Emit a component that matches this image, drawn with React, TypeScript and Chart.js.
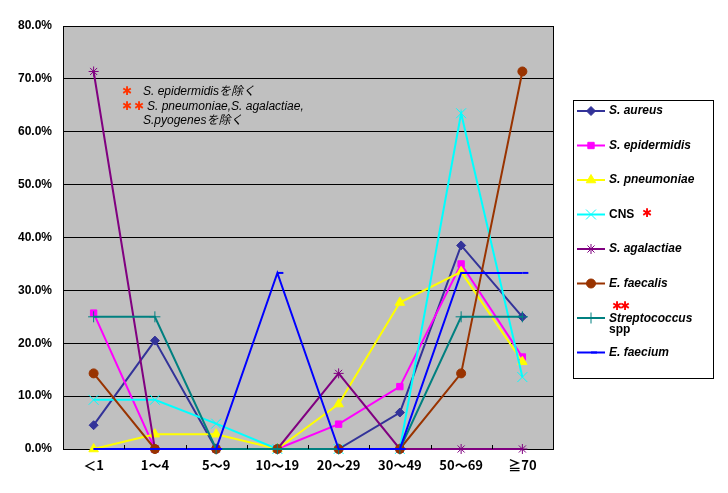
import { useRef, useEffect } from "react";
import { Chart, registerables, type Plugin } from "chart.js";
import { drawPoint } from "chart.js/helpers";

Chart.register(...registerables);

const categories = ["＜1", "1～4", "5～9", "10～19", "20～29", "30～49", "50～69", "≧70"];
const seriesNames = [
  "S. aureus",
  "S. epidermidis",
  "S. pneumoniae",
  "CNS",
  "S. agalactiae",
  "E. faecalis",
  "Streptococcus spp",
  "E. faecium",
];
const sAureus = [4.5, 20.5, 0, 0, 0, 6.9, 38.5, 25.0];
const sEpidermidis = [25.7, 0, 0, 0, 4.7, 11.8, 35.0, 17.4];
const sPneumoniae = [0, 2.8, 2.8, 0, 8.5, 27.7, 33.5, 16.5];
const cns = [9.3, 9.3, 4.8, 0, 0, 0, 63.5, 13.6];
const sAgalactiae = [71.4, 0, 0, 0, 14.3, 0, 0, 0];
const eFaecalis = [14.3, 0, 0, 0, 0, 0, 14.3, 71.4];
const streptococcus = [25, 25, 0, 0, 0, 0, 25, 25];
const eFaecium = [0, 0, 0, 33.3, 0, 0, 33.3, 33.3];
const yMax = 80;
const yStep = 10;
const notes = ["S. epidermidisを除く", "S. pneumoniae,S. agalactiae,", "S.pyogenesを除く"];

const seriesValues = [sAureus, sEpidermidis, sPneumoniae, cns, sAgalactiae, eFaecalis, streptococcus, eFaecium];

const seriesStyles = [
  { color: "#333399", pointStyle: "rectRot", radius: 4.5, pointBorder: 1 },
  { color: "#ff00ff", pointStyle: "rect", radius: 4.5, pointBorder: 1 },
  { color: "#ffff00", pointStyle: "triangle", radius: 5.5, pointBorder: 1 },
  { color: "#00ffff", pointStyle: "crossRot", radius: 7, pointBorder: 1 },
  { color: "#800080", pointStyle: "star", radius: 5, pointBorder: 1 },
  { color: "#993300", pointStyle: "circle", radius: 4.5, pointBorder: 1 },
  { color: "#008080", pointStyle: "cross", radius: 5.5, pointBorder: 1 },
  { color: "#0000ff", pointStyle: "dash", radius: 6, pointBorder: 2 },
];

const redStar = (ctx: CanvasRenderingContext2D, x: number, y: number, color: string) => {
  ctx.save();
  ctx.fillStyle = color;
  ctx.font = 'bold 12px "DejaVu Sans"';
  ctx.textAlign = "center";
  ctx.textBaseline = "middle";
  ctx.fillText("✱", x, y);
  ctx.restore();
};

const decorPlugin: Plugin<"line"> = {
  id: "decor",
  beforeDraw(chart) {
    const { ctx, chartArea: a } = chart;
    ctx.save();
    ctx.fillStyle = "#c0c0c0";
    ctx.fillRect(a.left, a.top, a.right - a.left, a.bottom - a.top);
    ctx.restore();
  },
  afterDraw(chart) {
    const { ctx, chartArea: a } = chart;
    const xs = chart.scales.x;
    ctx.save();
    // plot frame + inside tick marks
    ctx.strokeStyle = "#000";
    ctx.lineWidth = 1;
    ctx.beginPath();
    ctx.moveTo(a.right + 0.5, a.top);
    ctx.lineTo(a.right + 0.5, a.bottom);
    const w = (a.right - a.left) / categories.length;
    for (let i = 1; i < categories.length; i++) {
      const px = Math.round(xs.getPixelForValue(i) - w / 2) + 0.5;
      ctx.moveTo(px, a.bottom);
      ctx.lineTo(px, a.bottom - 4);
    }
    ctx.stroke();

    // notes
    ctx.fillStyle = "#000";
    ctx.textBaseline = "middle";
    ctx.font = 'italic 12px "Liberation Sans", "Noto Sans CJK JP"';
    redStar(ctx, 127, 92, "#ff3300");
    ctx.fillText(notes[0], 143, 92);
    redStar(ctx, 127, 107, "#ff3300");
    redStar(ctx, 139, 107, "#ff3300");
    ctx.fillText(notes[1], 147, 107);
    ctx.fillText(notes[2], 143, 121);

    // legend box
    const bx = 573.5, by = 100.5, bw = 140, bh = 278;
    ctx.fillStyle = "#fff";
    ctx.fillRect(bx, by, bw, bh);
    ctx.strokeRect(bx, by, bw, bh);
    chart.data.datasets.forEach((ds: any, i) => {
      const y = 111 + i * 34.5;
      const st = seriesStyles[i];
      ctx.strokeStyle = st.color;
      ctx.fillStyle = st.color;
      ctx.lineWidth = 2;
      ctx.beginPath();
      ctx.moveTo(577, y);
      ctx.lineTo(605, y);
      ctx.stroke();
      ctx.lineWidth = st.pointBorder;
      drawPoint(ctx, { pointStyle: st.pointStyle as any, rotation: 0, radius: st.radius, borderWidth: st.pointBorder }, 591, y);
      ctx.fillStyle = "#000";
      const name = ds.label as string;
      if (name === "CNS") {
        ctx.font = 'bold 12px "Liberation Sans"';
        ctx.fillText(name, 609, y);
        redStar(ctx, 647, y - 1, "#ff0000");
      } else if (name.endsWith(" spp")) {
        ctx.font = 'bold italic 12px "Liberation Sans"';
        ctx.fillText(name.replace(" spp", ""), 609, y + 1);
        ctx.font = 'bold 12px "Liberation Sans"';
        ctx.fillText("spp", 609, y + 12);
        redStar(ctx, 617, y - 11, "#ff0000");
        redStar(ctx, 625, y - 11, "#ff0000");
      } else {
        ctx.font = 'bold italic 12px "Liberation Sans"';
        ctx.fillText(name, 609, y);
      }
    });
    ctx.restore();
  },
};

export default function App() {
  const canvasRef = useRef<HTMLCanvasElement | null>(null);
  const chartRef = useRef<Chart | null>(null);

  useEffect(() => {
    if (!canvasRef.current) return;
    if (chartRef.current) chartRef.current.destroy();

    const n = seriesNames.length;
    chartRef.current = new Chart(canvasRef.current, {
      type: "line",
      data: {
        labels: categories,
        datasets: seriesNames.map((name, i) => ({
          label: name,
          data: seriesValues[i],
          borderColor: seriesStyles[i].color,
          backgroundColor: seriesStyles[i].color,
          pointBackgroundColor: seriesStyles[i].color,
          pointBorderColor: seriesStyles[i].color,
          pointStyle: seriesStyles[i].pointStyle as any,
          pointRadius: seriesStyles[i].radius,
          pointBorderWidth: seriesStyles[i].pointBorder,
          borderWidth: 2,
          tension: 0,
          fill: false,
          clip: false as any,
          order: n - i,
        })),
      },
      options: {
        responsive: false,
        animation: false,
        events: [],
        layout: { padding: { top: 26, right: 175, left: 0, bottom: 0 } },
        plugins: { legend: { display: false }, tooltip: { enabled: false } },
        scales: {
          x: {
            type: "category",
            offset: true,
            grid: { display: false, drawTicks: false },
            border: { display: true, color: "#000", width: 1 },
            ticks: {
              color: "#000",
              padding: 8,
              maxRotation: 0,
              autoSkip: false,
              font: { family: '"Noto Sans CJK JP"', size: 13, weight: "bold" },
            },
            afterFit: (s: any) => {
              s.height = 44;
            },
          },
          y: {
            min: 0,
            max: yMax,
            ticks: {
              stepSize: yStep,
              color: "#000",
              padding: 11,
              callback: (v: any) => Number(v).toFixed(1) + "%",
              font: { family: '"Liberation Sans"', size: 12, weight: "bold" },
            },
            grid: { color: "#000", lineWidth: 1, drawTicks: false },
            border: { display: true, color: "#000", width: 1 },
            afterFit: (s: any) => {
              s.width = 63;
            },
          },
        },
      },
      plugins: [decorPlugin],
    });

    return () => {
      if (chartRef.current) {
        chartRef.current.destroy();
        chartRef.current = null;
      }
    };
  }, []);

  return (
    <div style={{ position: "absolute", left: 0, top: 0, width: 728, height: 493, background: "#fff" }}>
      <canvas ref={canvasRef} width={728} height={493} />
    </div>
  );
}
